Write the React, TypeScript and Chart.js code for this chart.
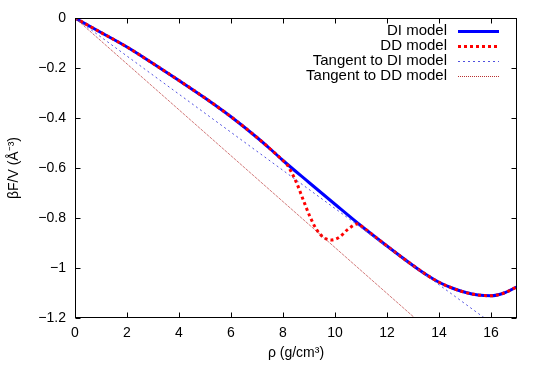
import { useEffect, useRef } from "react";
import { Chart, registerables } from "chart.js";
Chart.register(...registerables);

const FONT = "'Liberation Sans', Arial, Helvetica, sans-serif";

// Data
const diRho = [0, 1, 2, 3, 4, 5, 6, 7, 7.5, 8, 9, 10, 11, 12, 13, 13.5, 14, 14.5, 15, 15.5, 16, 16.5, 17];
const diF = [0, -0.058, -0.116, -0.182, -0.25, -0.32, -0.395, -0.478, -0.523, -0.57, -0.658, -0.745, -0.831, -0.912, -0.99, -1.026, -1.057, -1.08, -1.097, -1.108, -1.111, -1.1, -1.075];

const ddRho = [0, 1, 2, 3, 4, 5, 6, 7, 7.5, 8, 8.15, 8.3, 8.53, 8.78, 9.04, 9.29, 9.55, 9.87, 10.19, 10.5, 10.9, 11, 12, 13, 13.5, 14, 14.5, 15, 15.5, 16, 16.5, 17];
const ddF = [0, -0.058, -0.116, -0.182, -0.25, -0.32, -0.395, -0.478, -0.523, -0.57, -0.585, -0.612, -0.661, -0.728, -0.795, -0.846, -0.877, -0.888, -0.875, -0.845, -0.823, -0.831, -0.912, -0.99, -1.026, -1.057, -1.08, -1.097, -1.108, -1.111, -1.1, -1.075];

const tanDIRho = [0, 15.75];
const tanDIF = [0, -1.2];
const tanDDRho = [0, 13.07];
const tanDDF = [0, -1.2];

const xTicks = [0, 2, 4, 6, 8, 10, 12, 14, 16];
const yTicks = [0, -0.2, -0.4, -0.6, -0.8, -1, -1.2];

const labels = ["DI model", "DD model", "Tangent to DI model", "Tangent to DD model"];

const pts = (xs: number[], ys: number[]) => xs.map((x, i) => ({ x, y: ys[i] }));

const framePlugin = {
  id: "frame",
  afterDatasetsDraw(chart: any) {
    const { ctx, chartArea: a, scales } = chart;
    ctx.save();
    ctx.strokeStyle = "#000";
    ctx.lineWidth = 1;
    const L = Math.round(a.left) + 0.5, R = Math.round(a.right) - 0.5;
    const T = Math.round(a.top) + 0.5, B = Math.round(a.bottom) - 0.5;
    ctx.strokeRect(L, T, R - L, B - T);
    const tl = 5;
    ctx.beginPath();
    xTicks.forEach((v) => {
      const px = Math.round(scales.x.getPixelForValue(v)) + 0.5;
      ctx.moveTo(px, B); ctx.lineTo(px, B - tl);
      ctx.moveTo(px, T); ctx.lineTo(px, T + tl);
    });
    yTicks.forEach((v) => {
      const py = Math.round(scales.y.getPixelForValue(v)) + 0.5;
      ctx.moveTo(L, py); ctx.lineTo(L + tl, py);
      ctx.moveTo(R, py); ctx.lineTo(R - tl, py);
    });
    ctx.stroke();
    ctx.restore();
  },
};

const legendPlugin = {
  id: "gpLegend",
  afterDraw(chart: any) {
    const { ctx } = chart;
    ctx.save();
    ctx.font = `15px ${FONT}`;
    ctx.textAlign = "right";
    ctx.textBaseline = "middle";
    const textX = 447, x0 = 458, x1 = 499;
    const rows = [31, 46, 61, 76];
    chart.data.datasets.forEach((ds: any, i: number) => {
      const y = rows[i];
      ctx.fillStyle = "#000";
      ctx.fillText(ds.label, textX, y);
      ctx.strokeStyle = ds.borderColor;
      ctx.lineWidth = ds.borderWidth;
      ctx.setLineDash(ds.borderDash || []);
      ctx.beginPath();
      ctx.moveTo(x0, y + 0.5);
      ctx.lineTo(x1, y + 0.5);
      ctx.stroke();
    });
    ctx.restore();
  },
};

export default function App() {
  const ref = useRef<HTMLCanvasElement>(null);
  useEffect(() => {
    document.body.style.margin = "0";
    const chart = new Chart(ref.current!, {
      type: "line",
      data: {
        datasets: [
          {
            label: labels[0],
            data: pts(diRho, diF),
            borderColor: "#0000ff",
            borderWidth: 3,
            pointRadius: 0,
            cubicInterpolationMode: "monotone",
            order: 4,
          },
          {
            label: labels[1],
            data: pts(ddRho, ddF),
            borderColor: "#ff0000",
            borderWidth: 3,
            borderDash: [3, 3],
            pointRadius: 0,
            cubicInterpolationMode: "monotone",
            order: 3,
          },
          {
            label: labels[2],
            data: pts(tanDIRho, tanDIF),
            borderColor: "#5050e0",
            borderWidth: 1,
            borderDash: [2, 3],
            pointRadius: 0,
            order: 2,
          },
          {
            label: labels[3],
            data: pts(tanDDRho, tanDDF),
            borderColor: "#b83030",
            borderWidth: 1,
            borderDash: [1, 1],
            pointRadius: 0,
            order: 1,
          },
        ],
      } as any,
      options: {
        animation: false,
        responsive: true,
        maintainAspectRatio: false,
        layout: { padding: { left: 0, right: 28, top: 18, bottom: 0 } },
        plugins: { legend: { display: false }, tooltip: { enabled: false } },
        scales: {
          x: {
            type: "linear",
            min: 0,
            max: 17,
            afterBuildTicks: (s: any) => { s.ticks = xTicks.map((v) => ({ value: v })); },
            afterFit: (s: any) => { s.height = 64; },
            grid: { display: false, drawTicks: false },
            border: { display: false },
            ticks: {
              color: "#000",
              font: { family: FONT, size: 14 },
              padding: 7,
              maxRotation: 0,
              autoSkip: false,
              callback: (v: any) => String(v),
            },
            title: {
              display: true,
              text: "ρ (g/cm³)",
              color: "#000",
              font: { family: FONT, size: 14 },
              padding: { top: 4, bottom: 20 },
            },
          },
          y: {
            type: "linear",
            min: -1.2,
            max: 0,
            afterBuildTicks: (s: any) => { s.ticks = yTicks.map((v) => ({ value: v })); },
            afterFit: (s: any) => { s.width = 75; },
            grid: { display: false, drawTicks: false },
            border: { display: false },
            ticks: {
              color: "#000",
              font: { family: FONT, size: 14 },
              padding: 9,
              autoSkip: false,
              callback: (v: any) => (v === 0 ? "0" : "−" + String(Number(Math.abs(v).toFixed(1)))),
            },
            title: {
              display: true,
              text: "βF/V (Å⁻³)",
              color: "#000",
              font: { family: FONT, size: 14 },
              padding: { top: 6, bottom: 4 },
            },
          },
        },
      } as any,
      plugins: [framePlugin, legendPlugin],
    });
    return () => chart.destroy();
  }, []);
  return (
    <div style={{ width: 545, height: 382, position: "relative" }}>
      <canvas ref={ref} />
    </div>
  );
}
